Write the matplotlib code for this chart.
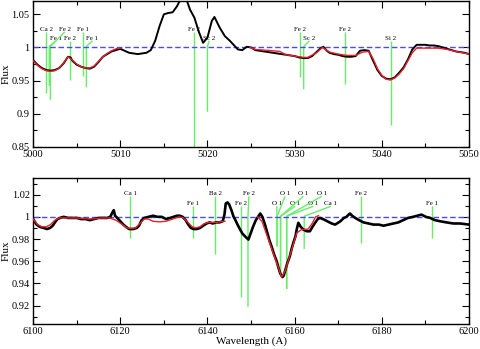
import matplotlib
matplotlib.use("Agg")
import matplotlib.pyplot as plt
from matplotlib.ticker import MultipleLocator, FormatStrFormatter

plt.rcParams["font.family"] = ["Liberation Serif", "DejaVu Serif"]

# ---- top panel: 5000-5050 A ----
top_wave = [5000.0, 5000.5, 5001.0, 5001.5, 5002.0, 5002.5, 5003.0, 5003.5, 5004.0, 5004.3,
            5004.5, 5005.0, 5005.5, 5006.0, 5006.5, 5007.0, 5007.5, 5008.0, 5008.5, 5009.0,
            5009.5, 5010.0, 5010.5, 5011.0, 5011.5, 5012.0, 5012.5, 5013.0, 5013.5, 5014.0,
            5014.5, 5015.0, 5015.5, 5016.0, 5016.5, 5017.0, 5017.3, 5017.6, 5018.0, 5018.5,
            5019.0, 5019.5, 5020.0, 5020.5, 5020.8, 5021.4, 5022.0, 5022.5, 5023.0, 5023.5,
            5024.0, 5024.5, 5025.0, 5025.5, 5026.0, 5026.5, 5027.0, 5027.5, 5028.0, 5028.5,
            5029.0, 5029.5, 5030.0, 5030.5, 5031.0, 5031.5, 5032.0, 5032.5, 5033.0, 5033.3,
            5033.7, 5034.0, 5034.5, 5035.0, 5035.5, 5036.0, 5036.5, 5037.0, 5037.5, 5038.0,
            5038.5, 5039.0, 5039.5, 5040.0, 5040.5, 5041.0, 5041.5, 5042.0, 5042.5, 5043.0,
            5043.5, 5044.0, 5044.5, 5045.0, 5045.5, 5046.0, 5046.5, 5047.0, 5047.5, 5048.0,
            5048.5, 5049.0, 5049.5, 5050.0]
top_flux = [0.981, 0.974, 0.969, 0.966, 0.965, 0.966, 0.969, 0.976, 0.986, 0.985,
            0.980, 0.974, 0.971, 0.969, 0.968, 0.971, 0.978, 0.986, 0.990, 0.994,
            0.996, 0.998, 0.995, 0.992, 0.991, 0.990, 0.991, 0.992, 0.996, 1.010,
            1.032, 1.050, 1.052, 1.053, 1.062, 1.075, 1.080, 1.072, 1.057, 1.045,
            1.024, 1.007, 1.015, 1.040, 1.046, 1.030, 1.017, 1.011, 1.004, 0.997,
            0.996, 1.001, 1.000, 0.996, 0.995, 0.994, 0.993, 0.992, 0.991, 0.990,
            0.989, 0.988, 0.987, 0.985, 0.984, 0.984, 0.987, 0.993, 0.999, 1.001,
            0.995, 0.992, 0.990, 0.989, 0.987, 0.986, 0.986, 0.987, 0.995, 0.996,
            0.995, 0.980, 0.966, 0.957, 0.953, 0.952, 0.955, 0.962, 0.970, 0.982,
            0.997, 1.004, 1.004, 1.004, 1.003, 1.003, 1.002, 1.000, 0.998, 0.996,
            0.994, 0.993, 0.992, 0.990]

top_fit1_wave = [5000.0, 5000.5, 5001.0, 5001.5, 5002.0, 5002.5, 5003.0, 5003.5, 5004.0, 5004.5,
                 5005.0, 5005.5, 5006.0, 5006.5, 5007.0, 5007.5, 5008.0, 5008.5, 5009.0, 5009.5,
                 5010.0]
top_fit1_flux = [0.980, 0.973, 0.968, 0.965, 0.964, 0.965, 0.969, 0.977, 0.986, 0.981,
                 0.975, 0.971, 0.969, 0.969, 0.972, 0.979, 0.986, 0.991, 0.995, 0.998,
                 0.999]
top_fit2_wave = [5024.9, 5025.5, 5026.5, 5027.5, 5028.3, 5029.0, 5030.0, 5031.0, 5031.5, 5032.5,
                 5033.2, 5034.0, 5035.0, 5036.0, 5037.0, 5037.8, 5038.5, 5039.0, 5039.5, 5040.0,
                 5040.5, 5041.0, 5041.5, 5042.0, 5042.5, 5043.0, 5043.5, 5044.0, 5046.5, 5047.5,
                 5048.5, 5049.3, 5050.0]
top_fit2_flux = [1.000, 0.997, 0.996, 0.995, 0.994, 0.989, 0.987, 0.985, 0.985, 0.992,
                 1.000, 0.993, 0.990, 0.988, 0.988, 0.993, 0.994, 0.983, 0.968, 0.958,
                 0.952, 0.951, 0.954, 0.960, 0.968, 0.980, 0.992, 0.999, 0.999, 0.997,
                 0.994, 0.992, 0.990]

top_line_names = ["Ca 2", "Fe 1", "Fe 2", "Fe 2", "Fe 1", "Fe 1", "Fe 2", "Sc 2", "Fe 2", "Sc 2", "Fe 2", "Si 2"]
top_line_wave = [5001.53, 5001.85, 5001.98, 5004.28, 5005.73, 5006.11, 5018.45, 5020.0, 5030.66, 5031.04, 5035.74, 5041.06]
top_line_depth = [0.931, 0.942, 0.921, 0.951, 0.957, 0.940, 0.84, 0.903, 0.956, 0.937, 0.945, 0.883]

# ---- bottom panel: 6100-6200 A ----
bot_wave = [6100.0, 6100.8, 6101.5, 6102.4, 6103.2, 6103.9, 6104.5, 6105.0, 6105.6, 6106.2,
            6107.0, 6108.0, 6109.0, 6110.0, 6111.0, 6112.0, 6113.0, 6114.0, 6115.0, 6116.0,
            6117.0, 6117.7, 6118.2, 6118.5, 6118.8, 6119.3, 6120.0, 6120.7, 6121.3, 6122.0,
            6123.0, 6123.8, 6124.3, 6124.9, 6125.5, 6126.5, 6127.5, 6128.5, 6129.5, 6130.5,
            6131.5, 6132.2, 6133.0, 6133.7, 6134.3, 6135.0, 6135.6, 6136.2, 6136.8, 6137.5,
            6138.3, 6139.0, 6139.8, 6140.5, 6141.2, 6142.0, 6142.8, 6143.5, 6143.9, 6144.2,
            6144.6, 6145.0, 6145.5, 6146.0, 6146.3, 6146.9, 6147.5, 6148.0, 6148.6, 6149.0,
            6149.4, 6149.9, 6150.5, 6151.1, 6151.7, 6152.1, 6152.6, 6153.2, 6153.7, 6154.2,
            6154.7, 6155.3, 6155.9, 6156.3, 6156.7, 6157.2, 6157.5, 6157.8, 6158.3, 6158.9,
            6159.3, 6159.7, 6160.2, 6160.5, 6160.85, 6161.4, 6162.0, 6162.8, 6163.5, 6164.1,
            6164.7, 6165.3, 6165.8, 6166.5, 6167.5, 6168.5, 6169.3, 6170.5, 6171.3, 6171.9,
            6172.4, 6172.7, 6173.2, 6173.9, 6174.8, 6175.8, 6177.0, 6178.1, 6179.3, 6180.4,
            6181.5, 6182.6, 6183.8, 6184.9, 6186.0, 6187.2, 6188.2, 6189.1, 6190.1, 6191.1,
            6192.2, 6193.4, 6194.8, 6196.4, 6198.0, 6200.0]
bot_flux = [0.998, 0.993, 0.991, 0.990, 0.989, 0.990, 0.992, 0.995, 0.998, 0.999,
            1.000, 0.999, 0.999, 0.999, 0.998, 0.998, 0.997, 0.998, 0.999, 0.999,
            0.999, 1.000, 1.004, 1.006, 1.001, 0.999, 0.996, 0.993, 0.991, 0.989,
            0.989, 0.990, 0.992, 0.997, 0.999, 1.000, 1.001, 1.000, 1.000, 0.998,
            0.999, 1.000, 1.001, 1.001, 1.000, 0.997, 0.993, 0.990, 0.989, 0.989,
            0.990, 0.992, 0.994, 0.995, 0.994, 0.995, 0.995, 0.996, 1.002, 1.012,
            1.013, 1.011, 1.006, 1.000, 0.998, 0.993, 0.9885, 0.985, 0.9825, 0.981,
            0.9795, 0.985, 0.9915, 0.997, 1.0005, 1.003, 1.000, 0.993, 0.986, 0.979,
            0.9734, 0.966, 0.9598, 0.954, 0.949, 0.9457, 0.947, 0.951, 0.958, 0.9644,
            0.971, 0.9765, 0.9825, 0.989, 0.9946, 0.991, 0.9885, 0.987, 0.987, 0.991,
            0.9946, 0.998, 0.999, 0.998, 0.996, 0.994, 0.993, 0.996, 0.999, 1.000,
            1.002, 1.003, 1.001, 0.999, 0.997, 0.995, 0.994, 0.993, 0.993, 0.992,
            0.993, 0.994, 0.995, 0.997, 0.999, 1.000, 1.001, 1.002, 1.000, 0.999,
            0.997, 0.996, 0.995, 0.994, 0.994, 0.993]

bot_fit1_wave = [6100.0, 6101.0, 6102.0, 6103.0, 6104.0, 6105.0, 6106.0, 6110.0, 6113.0, 6116.0,
                 6117.5, 6119.0, 6120.5, 6121.5, 6122.5, 6123.5, 6124.5, 6125.5, 6126.5, 6127.5,
                 6129.0, 6130.5, 6132.0, 6133.5, 6134.5, 6135.5, 6136.5, 6137.3, 6138.3, 6139.3,
                 6140.5, 6142.0, 6144.0]
bot_fit1_flux = [0.998, 0.993, 0.991, 0.991, 0.993, 0.997, 0.999, 0.999, 0.998, 0.999,
                 0.999, 0.997, 0.993, 0.990, 0.9895, 0.990, 0.994, 0.998, 0.998, 0.996,
                 0.9955, 0.996, 0.998, 1.000, 0.999, 0.995, 0.991, 0.990, 0.991, 0.994,
                 0.995, 0.995, 0.996]
bot_fit2_wave = [6151.5, 6152.5, 6154.0, 6155.2, 6156.3, 6157.0, 6157.8, 6158.5, 6159.3, 6160.5,
                 6161.6, 6163.1, 6164.1, 6164.8, 6165.5]
bot_fit2_flux = [1.000, 0.996, 0.9795, 0.966, 0.954, 0.9457, 0.951, 0.960, 0.970, 0.9855,
                 0.9885, 0.989, 0.9945, 1.000, 1.001]

bot_line_names = ["Ca 1", "Fe 1", "Ba 2", "Fe 2", "Fe 2", "O 1", "O 1", "O 1", "O 1", "O 1", "O 1",
                  "Ca 1", "Fe 2", "Fe 1"]
bot_line_wave = [6122.3, 6136.7, 6141.8, 6147.75, 6149.3, 6155.96, 6155.98, 6156.76, 6156.78,
                 6158.17, 6158.19, 6162.2, 6175.2, 6191.6]
bot_line_depth = [0.981, 0.981, 0.9666, 0.928, 0.9188, 0.9734, 0.9734, 0.948, 0.948,
                  0.935, 0.935, 0.971, 0.9765, 0.981]

# label layout: x of each label (None = right above the line)
top_label_x = [None, 5002.6, 5003.63, None, None, 5006.8, None, 5020.2, None, 5031.7, None, None]
bot_label_x = [None, None, None, None, 6149.5, 6155.9, 6157.8, 6160.1, 6162.0, 6164.3, 6166.2,
               6168.3, None, None]

GREEN = "#66ee66"
BLUE = "#4a4aff"
RED = "#e8202a"


def draw_line_ids(ax, names, waves, depths, label_xs, text_y, line_top, knee):
    for i, (name, wl, depth, lx) in enumerate(zip(names, waves, depths, label_xs)):
        row = i % 2
        if lx is None:
            xs = [wl, wl]
            ys = [line_top[row], depth]
            lx = wl
        else:
            xs = [lx, wl, wl]
            ys = [line_top[row], knee, depth]
        ax.plot(xs, ys, color=GREEN, lw=1.0, zorder=1, solid_capstyle="butt")
        ax.text(lx, text_y[row], name, fontsize=5, ha="center", va="center", zorder=1)


def style_axes(ax, xmajor, xminor, ymajor, yminor):
    ax.xaxis.set_major_locator(MultipleLocator(xmajor))
    ax.xaxis.set_minor_locator(MultipleLocator(xminor))
    ax.yaxis.set_major_locator(MultipleLocator(ymajor))
    ax.yaxis.set_minor_locator(MultipleLocator(yminor))
    ax.yaxis.set_major_formatter(FormatStrFormatter("%g"))
    ax.tick_params(which="both", direction="in", top=True, right=True, labelsize=7.5, width=0.8, pad=2.5)
    ax.tick_params(which="major", length=5)
    ax.tick_params(which="minor", length=3)
    for spine in ax.spines.values():
        spine.set_linewidth(1.0)
    ax.set_ylabel("Flux", fontsize=8)
    ax.yaxis.set_label_coords(-0.052, 0.5)


fig = plt.figure(figsize=(4.8, 3.49), dpi=100)

ax1 = fig.add_axes([0.069, 0.579, 0.908, 0.418])
ax1.axhline(1.0, color=BLUE, lw=1.0, ls=(0, (4, 2)), zorder=2)
draw_line_ids(ax1, top_line_names, top_line_wave, top_line_depth, top_label_x,
              text_y=(1.0268, 1.0132), line_top=(1.0235, 1.0100), knee=1.0015)
ax1.plot(top_wave, top_flux, color="black", lw=1.4, zorder=3)
ax1.plot(top_fit1_wave, top_fit1_flux, color=RED, lw=1.0, zorder=4)
ax1.plot(top_fit2_wave, top_fit2_flux, color=RED, lw=1.0, zorder=4)
ax1.set_xlim(5000, 5050)
ax1.set_ylim(0.85, 1.07)
style_axes(ax1, 10, 5, 0.05, 0.025)

ax2 = fig.add_axes([0.069, 0.0716, 0.908, 0.4184])
ax2.axhline(1.0, color=BLUE, lw=1.0, ls=(0, (4, 2)), zorder=2)
draw_line_ids(ax2, bot_line_names, bot_line_wave, bot_line_depth, bot_label_x,
              text_y=(1.0208, 1.0117), line_top=(1.0185, 1.0095), knee=1.0005)
ax2.plot(bot_wave, bot_flux, color="black", lw=1.9, zorder=3)
ax2.plot(bot_fit1_wave, bot_fit1_flux, color=RED, lw=1.0, zorder=4)
ax2.plot(bot_fit2_wave, bot_fit2_flux, color=RED, lw=1.0, zorder=4)
ax2.set_xlim(6100, 6200)
ax2.set_ylim(0.9034, 1.035)
style_axes(ax2, 20, 10, 0.02, 0.01)
ax2.set_xlabel("Wavelength (A)", fontsize=8, labelpad=0)

fig.savefig("out.png", dpi=100)
